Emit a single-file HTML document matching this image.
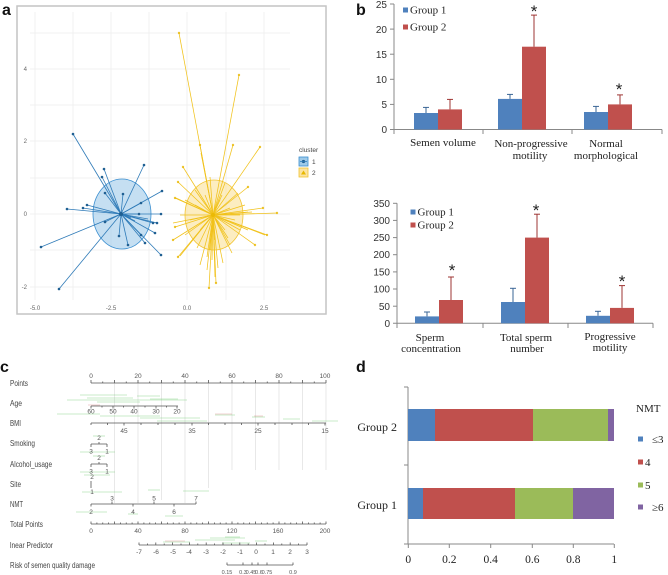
<!DOCTYPE html>
<html><head><meta charset="utf-8"><style>
html,body{margin:0;padding:0;background:#fff;}
svg{display:block;}
.sans{font-family:"Liberation Sans",sans-serif;}
.serif{font-family:"Liberation Serif",serif;}
</style></head><body>
<svg width="668" height="575" viewBox="0 0 668 575" xmlns="http://www.w3.org/2000/svg">
<rect width="668" height="575" fill="#fff"/>

<!-- ============ PANEL A ============ -->
<text x="2" y="15" class="sans" font-size="16" font-weight="bold" fill="#111">a</text>
<rect x="17" y="6" width="309" height="308" fill="#fff" stroke="#c4c4c4" stroke-width="1.5"/>
<g stroke="#f1f1f1" stroke-width="1">
<line x1="35" y1="12" x2="35" y2="300"/><line x1="73" y1="12" x2="73" y2="300"/><line x1="111" y1="12" x2="111" y2="300"/><line x1="149" y1="12" x2="149" y2="300"/><line x1="187" y1="12" x2="187" y2="300"/><line x1="226" y1="12" x2="226" y2="300"/><line x1="264" y1="12" x2="264" y2="300"/>
<line x1="30" y1="33" x2="290" y2="33"/><line x1="30" y1="69" x2="290" y2="69"/><line x1="30" y1="105" x2="290" y2="105"/><line x1="30" y1="141" x2="290" y2="141"/><line x1="30" y1="178" x2="290" y2="178"/><line x1="30" y1="214" x2="290" y2="214"/><line x1="30" y1="250" x2="290" y2="250"/><line x1="30" y1="287" x2="290" y2="287"/>
</g>
<g class="sans" font-size="6" fill="#666">
<text x="27" y="71" text-anchor="end">4</text>
<text x="27" y="143" text-anchor="end">2</text>
<text x="27" y="216" text-anchor="end">0</text>
<text x="27" y="289" text-anchor="end">-2</text>
<text x="35" y="310" text-anchor="middle">-5.0</text>
<text x="111" y="310" text-anchor="middle">-2.5</text>
<text x="187" y="310" text-anchor="middle">0.0</text>
<text x="264" y="310" text-anchor="middle">2.5</text>
</g>
<!-- blue cluster -->
<ellipse cx="122" cy="214" rx="29" ry="35" fill="#9ecae9" fill-opacity="0.6" stroke="#3b8fd0" stroke-width="0.8"/>
<g stroke="#2f7bb8" stroke-width="0.8">
<line x1="121" y1="214" x2="73" y2="134"/><line x1="121" y1="214" x2="104" y2="169"/><line x1="121" y1="214" x2="102" y2="177"/><line x1="121" y1="214" x2="144" y2="165"/><line x1="121" y1="214" x2="105" y2="193"/><line x1="121" y1="214" x2="123" y2="194"/><line x1="121" y1="214" x2="162" y2="191"/><line x1="121" y1="214" x2="141" y2="203"/><line x1="121" y1="214" x2="67" y2="209"/><line x1="121" y1="214" x2="83" y2="208"/><line x1="121" y1="214" x2="87" y2="205"/><line x1="121" y1="214" x2="161" y2="214"/><line x1="121" y1="214" x2="139" y2="214"/><line x1="121" y1="214" x2="157" y2="223"/><line x1="121" y1="214" x2="153" y2="223"/><line x1="121" y1="214" x2="105" y2="222"/><line x1="121" y1="214" x2="131" y2="218"/><line x1="121" y1="214" x2="155" y2="233"/><line x1="121" y1="214" x2="141" y2="235"/><line x1="121" y1="214" x2="145" y2="243"/><line x1="121" y1="214" x2="119" y2="236"/><line x1="121" y1="214" x2="128" y2="245"/><line x1="121" y1="214" x2="161" y2="255"/><line x1="121" y1="214" x2="41" y2="247"/><line x1="121" y1="214" x2="59" y2="289"/><line x1="121" y1="214" x2="148" y2="219"/><line x1="121" y1="214" x2="135" y2="221"/>
</g>
<g fill="#1f5f92">
<circle cx="73" cy="134" r="1.3"/><circle cx="104" cy="169" r="1.3"/><circle cx="102" cy="177" r="1.3"/><circle cx="144" cy="165" r="1.3"/><circle cx="105" cy="193" r="1.3"/><circle cx="123" cy="194" r="1.3"/><circle cx="162" cy="191" r="1.3"/><circle cx="141" cy="203" r="1.3"/><circle cx="67" cy="209" r="1.3"/><circle cx="83" cy="208" r="1.3"/><circle cx="87" cy="205" r="1.3"/><circle cx="161" cy="214" r="1.3"/><circle cx="139" cy="214" r="1.3"/><circle cx="157" cy="223" r="1.3"/><circle cx="153" cy="223" r="1.3"/><circle cx="105" cy="222" r="1.3"/><circle cx="155" cy="233" r="1.3"/><circle cx="141" cy="235" r="1.3"/><circle cx="145" cy="243" r="1.3"/><circle cx="119" cy="236" r="1.3"/><circle cx="128" cy="245" r="1.3"/><circle cx="161" cy="255" r="1.3"/><circle cx="41" cy="247" r="1.3"/><circle cx="59" cy="289" r="1.3"/><circle cx="121" cy="214" r="2"/>
</g>
<!-- yellow cluster -->
<ellipse cx="214" cy="215" rx="29" ry="35" fill="#fbe3a0" fill-opacity="0.65" stroke="#f2c430" stroke-width="0.8"/>
<g stroke="#f1c21b" stroke-width="0.75">
<line x1="213" y1="215" x2="179" y2="33"/><line x1="213" y1="215" x2="239" y2="75"/><line x1="213" y1="215" x2="200" y2="145"/><line x1="213" y1="215" x2="233" y2="145"/><line x1="213" y1="215" x2="260" y2="147"/><line x1="213" y1="215" x2="201" y2="153"/><line x1="213" y1="215" x2="183" y2="167"/><line x1="213" y1="215" x2="210" y2="177"/><line x1="213" y1="215" x2="225" y2="183"/><line x1="213" y1="215" x2="178" y2="182"/><line x1="213" y1="215" x2="248" y2="187"/><line x1="213" y1="215" x2="175" y2="198"/><line x1="213" y1="215" x2="185" y2="200"/><line x1="213" y1="215" x2="230" y2="208"/><line x1="213" y1="215" x2="263" y2="208"/><line x1="213" y1="215" x2="277" y2="213"/><line x1="213" y1="215" x2="248" y2="212"/><line x1="213" y1="215" x2="180" y2="215"/><line x1="213" y1="215" x2="175" y2="227"/><line x1="213" y1="215" x2="240" y2="230"/><line x1="213" y1="215" x2="248" y2="230"/><line x1="213" y1="215" x2="267" y2="235"/><line x1="213" y1="215" x2="173" y2="240"/><line x1="213" y1="215" x2="190" y2="243"/><line x1="213" y1="215" x2="197" y2="248"/><line x1="213" y1="215" x2="230" y2="245"/><line x1="213" y1="215" x2="255" y2="245"/><line x1="213" y1="215" x2="178" y2="257"/><line x1="213" y1="215" x2="207" y2="257"/><line x1="213" y1="215" x2="232" y2="253"/><line x1="213" y1="215" x2="223" y2="263"/><line x1="213" y1="215" x2="209" y2="288"/><line x1="213" y1="215" x2="216" y2="283"/><line x1="213" y1="215" x2="215" y2="277"/><line x1="213" y1="215" x2="173" y2="223"/><line x1="213" y1="215" x2="176" y2="198"/><line x1="213" y1="215" x2="252" y2="212"/><line x1="213" y1="215" x2="265" y2="235"/><line x1="213" y1="215" x2="180" y2="256"/><line x1="213" y1="215" x2="195" y2="205"/><line x1="213" y1="215" x2="205" y2="225"/><line x1="213" y1="215" x2="220" y2="200"/><line x1="213" y1="215" x2="225" y2="230"/><line x1="213" y1="215" x2="200" y2="230"/><line x1="213" y1="215" x2="235" y2="220"/><line x1="213" y1="215" x2="190" y2="220"/><line x1="213" y1="215" x2="215" y2="240"/><line x1="213" y1="215" x2="222" y2="195"/><line x1="213" y1="215" x2="205" y2="195"/><line x1="213" y1="215" x2="240" y2="215"/><line x1="213" y1="215" x2="185" y2="235"/><line x1="213" y1="215" x2="212" y2="260"/><line x1="213" y1="215" x2="200" y2="265"/><line x1="213" y1="215" x2="245" y2="205"/><line x1="213" y1="215" x2="207" y2="270"/><line x1="213" y1="215" x2="218" y2="268"/><line x1="213" y1="215" x2="195" y2="190"/><line x1="213" y1="215" x2="238" y2="193"/><line x1="213" y1="215" x2="210" y2="250"/><line x1="213" y1="215" x2="228" y2="238"/>
</g>
<g fill="#e8b800" fill-opacity="0.8">
<circle cx="179" cy="33" r="1.2"/><circle cx="239" cy="75" r="1.2"/><circle cx="200" cy="145" r="1.2"/><circle cx="233" cy="145" r="1.2"/><circle cx="260" cy="147" r="1.2"/><circle cx="183" cy="167" r="1.2"/><circle cx="178" cy="182" r="1.2"/><circle cx="248" cy="187" r="1.2"/><circle cx="175" cy="198" r="1.2"/><circle cx="263" cy="208" r="1.2"/><circle cx="277" cy="213" r="1.2"/><circle cx="175" cy="227" r="1.2"/><circle cx="267" cy="235" r="1.2"/><circle cx="173" cy="240" r="1.2"/><circle cx="178" cy="257" r="1.2"/><circle cx="209" cy="288" r="1.2"/><circle cx="216" cy="283" r="1.2"/><circle cx="255" cy="245" r="1.2"/><circle cx="213" cy="215" r="2"/>
</g>
<!-- legend -->
<text x="299" y="152" class="sans" font-size="6.5" fill="#444">cluster</text>
<rect x="299" y="157" width="9" height="9" fill="#9ecae9" stroke="#3b8fd0" stroke-width="0.8"/>
<circle cx="303.5" cy="161.5" r="1.6" fill="#1f5f92"/>
<line x1="300" y1="161.5" x2="307" y2="161.5" stroke="#2f7bb8" stroke-width="0.8"/>
<rect x="299" y="168" width="9" height="9" fill="#fbe3a0" stroke="#f2c430" stroke-width="0.8"/>
<polygon points="303.5,170.5 306,174.5 301,174.5" fill="#e8b800"/>
<text x="312" y="164" class="sans" font-size="6.5" fill="#444">1</text>
<text x="312" y="175" class="sans" font-size="6.5" fill="#444">2</text>

<!-- ============ PANEL B TOP ============ -->
<text x="356" y="15" class="sans" font-size="16" font-weight="bold" fill="#111">b</text>
<g class="sans" font-size="10" fill="#333" text-anchor="end">
<text x="387" y="133">0</text><text x="387" y="108">5</text><text x="387" y="83">10</text><text x="387" y="58">15</text><text x="387" y="33">20</text><text x="387" y="8">25</text>
</g>
<g stroke="#888" stroke-width="1">
<line x1="394" y1="4" x2="394" y2="129.5"/>
<line x1="390" y1="4" x2="394" y2="4"/><line x1="390" y1="29.1" x2="394" y2="29.1"/><line x1="390" y1="54.2" x2="394" y2="54.2"/><line x1="390" y1="79.3" x2="394" y2="79.3"/><line x1="390" y1="104.4" x2="394" y2="104.4"/>
<line x1="390" y1="129.5" x2="662" y2="129.5"/>
<line x1="394" y1="129.5" x2="394" y2="134"/><line x1="483" y1="129.5" x2="483" y2="134"/><line x1="572" y1="129.5" x2="572" y2="134"/><line x1="662" y1="129.5" x2="662" y2="134"/>
</g>
<g>
<rect x="414" y="113" width="24" height="16.5" fill="#4f81bd"/>
<rect x="438" y="109.4" width="24" height="20.1" fill="#c0504d"/>
<rect x="498" y="98.9" width="24" height="30.6" fill="#4f81bd"/>
<rect x="522" y="46.7" width="24" height="82.8" fill="#c0504d"/>
<rect x="584" y="112" width="24" height="17.5" fill="#4f81bd"/>
<rect x="608" y="104.4" width="24" height="25.1" fill="#c0504d"/>
</g>
<g stroke-width="1">
<g stroke="#3a6696"><line x1="426" y1="113" x2="426" y2="107.4"/><line x1="423" y1="107.4" x2="429" y2="107.4"/>
<line x1="510" y1="98.9" x2="510" y2="94.4"/><line x1="507" y1="94.4" x2="513" y2="94.4"/>
<line x1="596" y1="112" x2="596" y2="106.4"/><line x1="593" y1="106.4" x2="599" y2="106.4"/></g>
<g stroke="#9e3533"><line x1="450" y1="109.4" x2="450" y2="99.4"/><line x1="447" y1="99.4" x2="453" y2="99.4"/>
<line x1="534" y1="46.7" x2="534" y2="15.1"/><line x1="531" y1="15.1" x2="537" y2="15.1"/>
<line x1="620" y1="104.4" x2="620" y2="94.9"/><line x1="617" y1="94.9" x2="623" y2="94.9"/></g>
</g>
<g class="sans" font-size="17" fill="#222" text-anchor="middle">
<text x="534" y="17">*</text><text x="619" y="95">*</text>
</g>
<rect x="403" y="7.5" width="5" height="5" fill="#4f81bd"/>
<rect x="403" y="24.5" width="5" height="5" fill="#c0504d"/>
<g class="serif" font-size="11" fill="#222">
<text x="410" y="13.5">Group 1</text>
<text x="410" y="30.5">Group 2</text>
</g>
<g class="serif" font-size="11" fill="#222" text-anchor="middle">
<text x="443" y="146">Semen volume</text>
<text x="531" y="147">Non-progressive</text>
<text x="530" y="159">motility</text>
<text x="606" y="147">Normal</text>
<text x="606" y="159">morphological</text>
</g>

<!-- ============ PANEL B BOTTOM ============ -->
<g class="sans" font-size="10" fill="#333" text-anchor="end">
<text x="390" y="327">0</text><text x="390" y="310">50</text><text x="390" y="292.5">100</text><text x="390" y="275.5">150</text><text x="390" y="258">200</text><text x="390" y="241">250</text><text x="390" y="224">300</text><text x="390" y="207">350</text>
</g>
<g stroke="#888" stroke-width="1">
<line x1="397" y1="203.3" x2="397" y2="323.3"/>
<line x1="393" y1="203.3" x2="397" y2="203.3"/><line x1="393" y1="220.4" x2="397" y2="220.4"/><line x1="393" y1="237.6" x2="397" y2="237.6"/><line x1="393" y1="254.7" x2="397" y2="254.7"/><line x1="393" y1="271.9" x2="397" y2="271.9"/><line x1="393" y1="289" x2="397" y2="289"/><line x1="393" y1="306.2" x2="397" y2="306.2"/>
<line x1="393" y1="323.3" x2="653" y2="323.3"/>
<line x1="397" y1="323.3" x2="397" y2="328"/><line x1="483" y1="323.3" x2="483" y2="328"/><line x1="568" y1="323.3" x2="568" y2="328"/><line x1="653" y1="323.3" x2="653" y2="328"/>
</g>
<g>
<rect x="415" y="316.4" width="24" height="6.9" fill="#4f81bd"/>
<rect x="439" y="300" width="24" height="23.3" fill="#c0504d"/>
<rect x="501" y="302" width="24" height="21.3" fill="#4f81bd"/>
<rect x="525" y="237.6" width="24" height="85.7" fill="#c0504d"/>
<rect x="586" y="315.8" width="24" height="7.5" fill="#4f81bd"/>
<rect x="610" y="307.9" width="24" height="15.4" fill="#c0504d"/>
</g>
<g stroke-width="1">
<g stroke="#3a6696"><line x1="427" y1="316.4" x2="427" y2="312"/><line x1="424" y1="312" x2="430" y2="312"/>
<line x1="513" y1="302" x2="513" y2="288.3"/><line x1="510" y1="288.3" x2="516" y2="288.3"/>
<line x1="598" y1="315.8" x2="598" y2="311.3"/><line x1="595" y1="311.3" x2="601" y2="311.3"/></g>
<g stroke="#9e3533"><line x1="451" y1="300" x2="451" y2="277"/><line x1="448" y1="277" x2="454" y2="277"/>
<line x1="537" y1="237.6" x2="537" y2="214.2"/><line x1="534" y1="214.2" x2="540" y2="214.2"/>
<line x1="622" y1="307.9" x2="622" y2="285.6"/><line x1="619" y1="285.6" x2="625" y2="285.6"/></g>
</g>
<g class="sans" font-size="17" fill="#222" text-anchor="middle">
<text x="452" y="276">*</text><text x="536" y="216">*</text><text x="622" y="287">*</text>
</g>
<rect x="410.5" y="209.5" width="5" height="5" fill="#4f81bd"/>
<rect x="410.5" y="222.5" width="5" height="5" fill="#c0504d"/>
<g class="serif" font-size="11" fill="#222">
<text x="417.5" y="215.5">Group 1</text>
<text x="417.5" y="228.5">Group 2</text>
</g>
<g class="serif" font-size="11" fill="#222" text-anchor="middle">
<text x="430" y="341">Sperm</text>
<text x="431" y="352">concentration</text>
<text x="526" y="341">Total sperm</text>
<text x="527" y="352">number</text>
<text x="610" y="340">Progressive</text>
<text x="610" y="351">motility</text>
</g>

<!-- ============ PANEL C ============ -->
<text x="0" y="372" class="sans" font-size="16" font-weight="bold" fill="#111">c</text>
<g stroke="#e2e2e2" stroke-width="0.8">
<line x1="114.5" y1="383" x2="114.5" y2="503"/><line x1="138" y1="383" x2="138" y2="503"/><line x1="161.5" y1="383" x2="161.5" y2="500"/><line x1="185" y1="383" x2="185" y2="503"/><line x1="208.5" y1="383" x2="208.5" y2="488"/><line x1="232" y1="383" x2="232" y2="470"/><line x1="255.5" y1="383" x2="255.5" y2="470"/><line x1="279" y1="383" x2="279" y2="470"/><line x1="302.5" y1="383" x2="302.5" y2="470"/><line x1="326" y1="383" x2="326" y2="470"/>
</g>
<!-- green scribbles -->
<g stroke="#7ccf7c" stroke-opacity="0.55" stroke-width="0.8">
<line x1="80" y1="395" x2="127" y2="395"/><line x1="137" y1="396" x2="160" y2="396"/><line x1="87" y1="398" x2="133" y2="398"/><line x1="67" y1="400" x2="187" y2="400"/><line x1="97" y1="402" x2="140" y2="402"/><line x1="150" y1="399" x2="178" y2="399"/>
<line x1="57" y1="414" x2="100" y2="414"/><line x1="100" y1="416" x2="160" y2="416"/><line x1="140" y1="418" x2="200" y2="418"/><line x1="157" y1="421" x2="207" y2="421"/>
<line x1="215" y1="415" x2="235" y2="415"/><line x1="252" y1="417" x2="265" y2="417"/><line x1="283" y1="419" x2="300" y2="419"/><line x1="312" y1="421" x2="338" y2="421"/>
<line x1="93" y1="436" x2="105" y2="436"/><line x1="80" y1="452" x2="115" y2="452"/><line x1="93" y1="456" x2="105" y2="456"/><line x1="80" y1="472" x2="115" y2="472"/><line x1="84" y1="475" x2="110" y2="475"/>
<line x1="82" y1="492" x2="122" y2="492"/><line x1="148" y1="490" x2="160" y2="490"/><line x1="183" y1="491" x2="209" y2="491"/>
<line x1="76" y1="512" x2="107" y2="512"/><line x1="128" y1="514" x2="138" y2="514"/><line x1="165" y1="516" x2="183" y2="516"/>
<line x1="163" y1="542" x2="190" y2="542"/><line x1="195" y1="540" x2="235" y2="540"/><line x1="210" y1="538" x2="245" y2="538"/><line x1="225" y1="537" x2="240" y2="537"/><line x1="255" y1="541" x2="267" y2="541"/><line x1="222" y1="543" x2="250" y2="543"/>
</g>
<g stroke="#d88" stroke-opacity="0.5" stroke-width="0.8">
<line x1="88" y1="405" x2="100" y2="405"/><line x1="215" y1="414" x2="232" y2="414"/><line x1="254" y1="416" x2="263" y2="416"/><line x1="165" y1="541" x2="185" y2="541"/>
</g>
<g class="sans" font-size="8.5" fill="#444">
<text x="10" y="386" textLength="18" lengthAdjust="spacingAndGlyphs">Points</text>
<text x="10" y="406" textLength="12" lengthAdjust="spacingAndGlyphs">Age</text>
<text x="10" y="426" textLength="11" lengthAdjust="spacingAndGlyphs">BMI</text>
<text x="10" y="446" textLength="25" lengthAdjust="spacingAndGlyphs">Smoking</text>
<text x="10" y="467" textLength="42" lengthAdjust="spacingAndGlyphs">Alcohol_usage</text>
<text x="10" y="487" textLength="11" lengthAdjust="spacingAndGlyphs">Site</text>
<text x="10" y="507" textLength="13" lengthAdjust="spacingAndGlyphs">NMT</text>
<text x="10" y="527" textLength="33" lengthAdjust="spacingAndGlyphs">Total Points</text>
<text x="10" y="548" textLength="43" lengthAdjust="spacingAndGlyphs">lnear Predictor</text>
<text x="10" y="568" textLength="85" lengthAdjust="spacingAndGlyphs">Risk of semen quality damage</text>
</g>
<g stroke="#555" stroke-width="0.8" fill="none">
<line x1="91" y1="383" x2="326" y2="383"/>
<path d="M91 383v-3M114.5 383v-3M138 383v-3M161.5 383v-3M185 383v-3M208.5 383v-3M232 383v-3M255.5 383v-3M279 383v-3M302.5 383v-3M326 383v-3M102.75 383v-1.5M126.25 383v-1.5M149.75 383v-1.5M173.25 383v-1.5M196.75 383v-1.5M220.25 383v-1.5M243.75 383v-1.5M267.25 383v-1.5M290.75 383v-1.5M314.25 383v-1.5"/>
<line x1="91" y1="406" x2="178" y2="406"/>
<path d="M91 406v2.5M113 406v2.5M134 406v2.5M156 406v2.5M177 406v2.5M102 406v1.5M123.5 406v1.5M145 406v1.5M166.5 406v1.5"/>
<line x1="91" y1="423" x2="326" y2="423"/>
<path d="M91 423v2M107.5 423v2M124 423v2.5M141 423v2M158 423v2M175 423v2M192 423v2.5M208.5 423v2M225 423v2M241.5 423v2M258 423v2.5M275 423v2M292 423v2M308.5 423v2M325 423v2.5"/>
<path d="M91 444h16M91 444v3M107 444v3M99 444v-2"/>
<path d="M91 464h16M91 464v3M107 464v3M99 464v-2"/>
<path d="M91 481v7"/>
<line x1="91" y1="504" x2="196" y2="504"/>
<path d="M91 504v2.5M112 504v-2.5M133 504v2.5M154 504v-2.5M174 504v2.5M196 504v-2.5"/>
<line x1="91" y1="524" x2="326" y2="524"/>
<path d="M91 524v-2.5M96.9 524v-1.5M102.75 524v-1.5M108.6 524v-1.5M114.5 524v-2.5M120.4 524v-1.5M126.25 524v-1.5M132.1 524v-1.5M138 524v-2.5M143.9 524v-1.5M149.75 524v-1.5M155.6 524v-1.5M161.5 524v-2.5M167.4 524v-1.5M173.25 524v-1.5M179.1 524v-1.5M185 524v-2.5M190.9 524v-1.5M196.75 524v-1.5M202.6 524v-1.5M208.5 524v-2.5M214.4 524v-1.5M220.25 524v-1.5M226.1 524v-1.5M232 524v-2.5M237.9 524v-1.5M243.75 524v-1.5M249.6 524v-1.5M255.5 524v-2.5M261.4 524v-1.5M267.25 524v-1.5M273.1 524v-1.5M279 524v-2.5M284.9 524v-1.5M290.75 524v-1.5M296.6 524v-1.5M302.5 524v-2.5M308.4 524v-1.5M314.25 524v-1.5M320.1 524v-1.5M326 524v-2.5"/>
<line x1="139" y1="545" x2="307" y2="545"/>
<path d="M139 545v-2.5M147.4 545v-1.5M155.8 545v-2.5M164.2 545v-1.5M172.6 545v-2.5M181 545v-1.5M189.4 545v-2.5M197.8 545v-1.5M206.2 545v-2.5M214.6 545v-1.5M223 545v-2.5M231.4 545v-1.5M239.8 545v-2.5M248.2 545v-1.5M256.6 545v-2.5M265 545v-1.5M273.4 545v-2.5M281.8 545v-1.5M290.2 545v-2.5M298.6 545v-1.5M307 545v-2.5"/>
<line x1="227" y1="565" x2="293" y2="565"/>
<path d="M227 565v-2.5M243 565v-2.5M252 565v-2.5M258 565v-2.5M267 565v-2.5M293 565v-2.5"/>
</g>
<g class="sans" font-size="6.5" fill="#555" text-anchor="middle">
<text x="91" y="378">0</text><text x="138" y="378">20</text><text x="185" y="378">40</text><text x="232" y="378">60</text><text x="279" y="378">80</text><text x="325" y="378">100</text>
<text x="91" y="413.5">60</text><text x="113" y="413.5">50</text><text x="134" y="413.5">40</text><text x="156" y="413.5">30</text><text x="177" y="413.5">20</text>
<text x="124" y="433">45</text><text x="192" y="433">35</text><text x="258" y="433">25</text><text x="325" y="433">15</text>
<text x="99" y="440">2</text><text x="91" y="453.5">3</text><text x="107" y="453.5">1</text>
<text x="99" y="460">2</text><text x="91" y="473.5">3</text><text x="107" y="473.5">1</text><text x="92" y="479">2</text><text x="92" y="494">1</text>
<text x="112" y="500.5">3</text><text x="154" y="500.5">5</text><text x="196" y="500.5">7</text>
<text x="91" y="514">2</text><text x="133" y="514">4</text><text x="174" y="514">6</text>
<text x="91" y="533">0</text><text x="138" y="533">40</text><text x="185" y="533">80</text><text x="232" y="533">120</text><text x="278" y="533">160</text><text x="325" y="533">200</text>
<text x="139" y="554">-7</text><text x="156" y="554">-6</text><text x="173" y="554">-5</text><text x="189" y="554">-4</text><text x="206" y="554">-3</text><text x="223" y="554">-2</text><text x="240" y="554">-1</text><text x="256" y="554">0</text><text x="273" y="554">1</text><text x="290" y="554">2</text><text x="307" y="554">3</text>
</g>
<g class="sans" font-size="5.5" fill="#555" text-anchor="middle">
<text x="227" y="574">0.15</text><text x="243" y="574">0.3</text><text x="251" y="574">0.45</text><text x="259" y="574">0.6</text><text x="267" y="574">0.75</text><text x="293" y="574">0.9</text>
</g>

<!-- ============ PANEL D ============ -->
<text x="356" y="372" class="sans" font-size="16" font-weight="bold" fill="#111">d</text>
<g stroke="#888" stroke-width="1">
<line x1="408" y1="387" x2="408" y2="544"/>
<line x1="404" y1="387" x2="408" y2="387"/><line x1="404" y1="465" x2="408" y2="465"/><line x1="404" y1="544" x2="408" y2="544"/>
<line x1="408" y1="544" x2="614" y2="544"/>
<line x1="408.3" y1="544" x2="408.3" y2="548"/><line x1="449.3" y1="544" x2="449.3" y2="548"/><line x1="490.7" y1="544" x2="490.7" y2="548"/><line x1="532.3" y1="544" x2="532.3" y2="548"/><line x1="573.3" y1="544" x2="573.3" y2="548"/><line x1="614.3" y1="544" x2="614.3" y2="548"/>
</g>
<rect x="408" y="409" width="27" height="32" fill="#4f81bd"/>
<rect x="435" y="409" width="98" height="32" fill="#c0504d"/>
<rect x="533" y="409" width="75" height="32" fill="#9bbb59"/>
<rect x="608" y="409" width="6" height="32" fill="#8064a2"/>
<rect x="408" y="488" width="15" height="31" fill="#4f81bd"/>
<rect x="423" y="488" width="92" height="31" fill="#c0504d"/>
<rect x="515" y="488" width="58" height="31" fill="#9bbb59"/>
<rect x="573" y="488" width="41" height="31" fill="#8064a2"/>
<g class="serif" font-size="12" fill="#222" text-anchor="end">
<text x="397" y="431">Group 2</text>
<text x="397" y="509">Group 1</text>
</g>
<g class="serif" font-size="11.5" fill="#222" text-anchor="middle">
<text x="408.3" y="563">0</text><text x="449.3" y="563">0.2</text><text x="490.7" y="563">0.4</text><text x="532.3" y="563">0.6</text><text x="573.3" y="563">0.8</text><text x="614.3" y="563">1</text>
</g>
<text x="636" y="412" class="serif" font-size="11" fill="#222">NMT</text>
<rect x="638" y="436.5" width="5" height="5" fill="#4f81bd"/>
<rect x="638" y="459.5" width="5" height="5" fill="#c0504d"/>
<rect x="638" y="482.5" width="5" height="5" fill="#9bbb59"/>
<rect x="638" y="504.5" width="5" height="5" fill="#8064a2"/>
<g class="serif" font-size="11" fill="#222">
<text x="652" y="443">≤3</text><text x="645" y="466">4</text><text x="645" y="489">5</text><text x="652" y="511">≥6</text>
</g>
</svg>
</body></html>
